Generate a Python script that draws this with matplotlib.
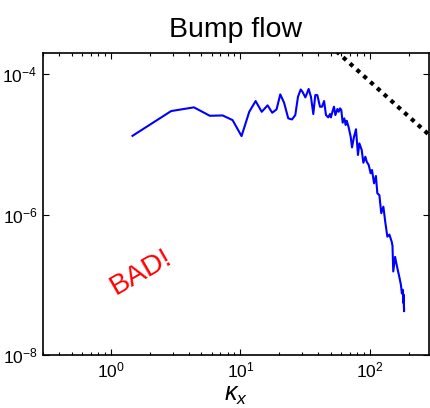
import matplotlib
matplotlib.use("Agg")
import matplotlib.pyplot as plt
from matplotlib.ticker import LogLocator, NullLocator, LogFormatterSciNotation
import numpy as np

plt.rcParams['font.family'] = ['Liberation Sans', 'DejaVu Sans']
plt.rcParams['mathtext.fontset'] = 'custom'
plt.rcParams['mathtext.rm'] = 'Liberation Sans'
plt.rcParams['mathtext.it'] = 'Liberation Sans:italic'

title = "Bump flow"
xlabel = r"$\kappa_x$"
note = "BAD!"

# spectrum
kx = [1.47, 2.92, 4.38, 5.81, 7.29, 8.7, 10.2, 11.7, 13.1, 14.6, 16.2, 17.6, 19.0,
      20.3, 21.7, 23.4, 25.0, 26.5, 27.8, 29.2, 30.2, 31.7, 33.6, 35.0, 36.5,
      37.8, 39.2, 41.1, 42.6, 44.2, 45.7, 47.6, 49.1, 49.9, 51.5, 52.7, 54.0,
      56.0, 57.3, 58.7, 60.0, 61.5, 63.3, 64.9, 66.1, 68.4, 70.9, 72.6, 75.2,
      77.9, 80.7, 82.7, 86.2, 88.8, 92.0, 94.2, 97.7, 101, 103.5, 107.4, 111,
      113.8, 118, 122, 126.7, 131, 136, 141, 147, 149, 151, 156, 162.5, 168,
      173, 176, 179, 181, 182, 183, 182]
E = [1.33e-5, 3.0e-5, 3.39e-5, 2.57e-5, 2.6e-5, 2.23e-5, 1.32e-5, 2.93e-5, 4.17e-5,
     2.93e-5, 3.62e-5, 2.84e-5, 3.17e-5, 5.19e-5, 3.96e-5, 2.36e-5, 2.28e-5, 2.63e-5,
     4.8e-5, 6.1e-5, 5.6e-5, 4.7e-5, 6.2e-5, 4.8e-5, 2.72e-5, 5.07e-5, 5.07e-5,
     3.46e-5, 3.46e-5, 4.17e-5, 2.63e-5, 2.44e-5, 2.72e-5, 2.44e-5, 3.03e-5,
     3.46e-5, 2.63e-5, 3.21e-5, 2.93e-5, 3.28e-5, 3.1e-5, 2.05e-5, 2.36e-5, 1.9e-5,
     2.18e-5, 1.76e-5, 1.29e-5, 9.1e-6, 1.29e-5, 1.65e-5, 7.1e-6, 1.04e-5, 8.4e-6,
     5.5e-6, 6.7e-6, 5.7e-6, 5.1e-6, 3.89e-6, 4.34e-6, 2.8e-6, 3.56e-6, 2.02e-6,
     1.9e-6, 1.05e-6, 1.3e-6, 7.9e-7, 4.86e-7, 5.2e-7, 4.1e-7, 3.6e-7, 1.55e-7,
     2.5e-7, 1.72e-7, 1.31e-7, 1.0e-7, 7.5e-8, 8.5e-8, 5.5e-8, 7.2e-8, 4.2e-8, 6.5e-8]

# -5/3 reference line
ref_k = [30, 400]
ref_coef = 0.17
ref_slope = -5.0 / 3.0

fig = plt.figure(figsize=(4.30, 4.08), dpi=100)
ax = fig.add_axes([0.100, 0.130, 0.8977, 0.7394])

ax.plot(kx, E, color=(0, 0, 1), lw=1.5)
rk = np.array(ref_k, dtype=float)
ax.plot(rk, ref_coef * rk ** ref_slope, color='k', lw=3, ls=(0, (1, 1.2)))

ax.set_xscale('log')
ax.set_yscale('log')
ax.set_xlim(0.3, 285)
ax.set_ylim(1e-8, 2e-4)

ax.xaxis.set_major_locator(LogLocator(base=10, numticks=10))
ax.xaxis.set_minor_locator(LogLocator(base=10, subs=np.arange(2, 10), numticks=20))
ax.yaxis.set_major_locator(LogLocator(base=100, numticks=10))
ax.yaxis.set_minor_locator(NullLocator())
ax.yaxis.set_major_formatter(LogFormatterSciNotation(base=10))

ax.tick_params(which='both', direction='in', top=True, right=True, labelsize=12.5, width=0.8)
ax.tick_params(which='major', length=4.5, pad=4)
ax.tick_params(which='minor', length=2.5)
for s in ax.spines.values():
    s.set_linewidth(1.2)

ax.set_title(title, fontsize=20.5, pad=12)
ax.set_xlabel(xlabel, fontsize=18, labelpad=2)

ax.text(0.254, 0.275, note, transform=ax.transAxes, color='red', fontsize=20.5,
        rotation=30, ha='center', va='center')

fig.savefig("out.png", dpi=100)
